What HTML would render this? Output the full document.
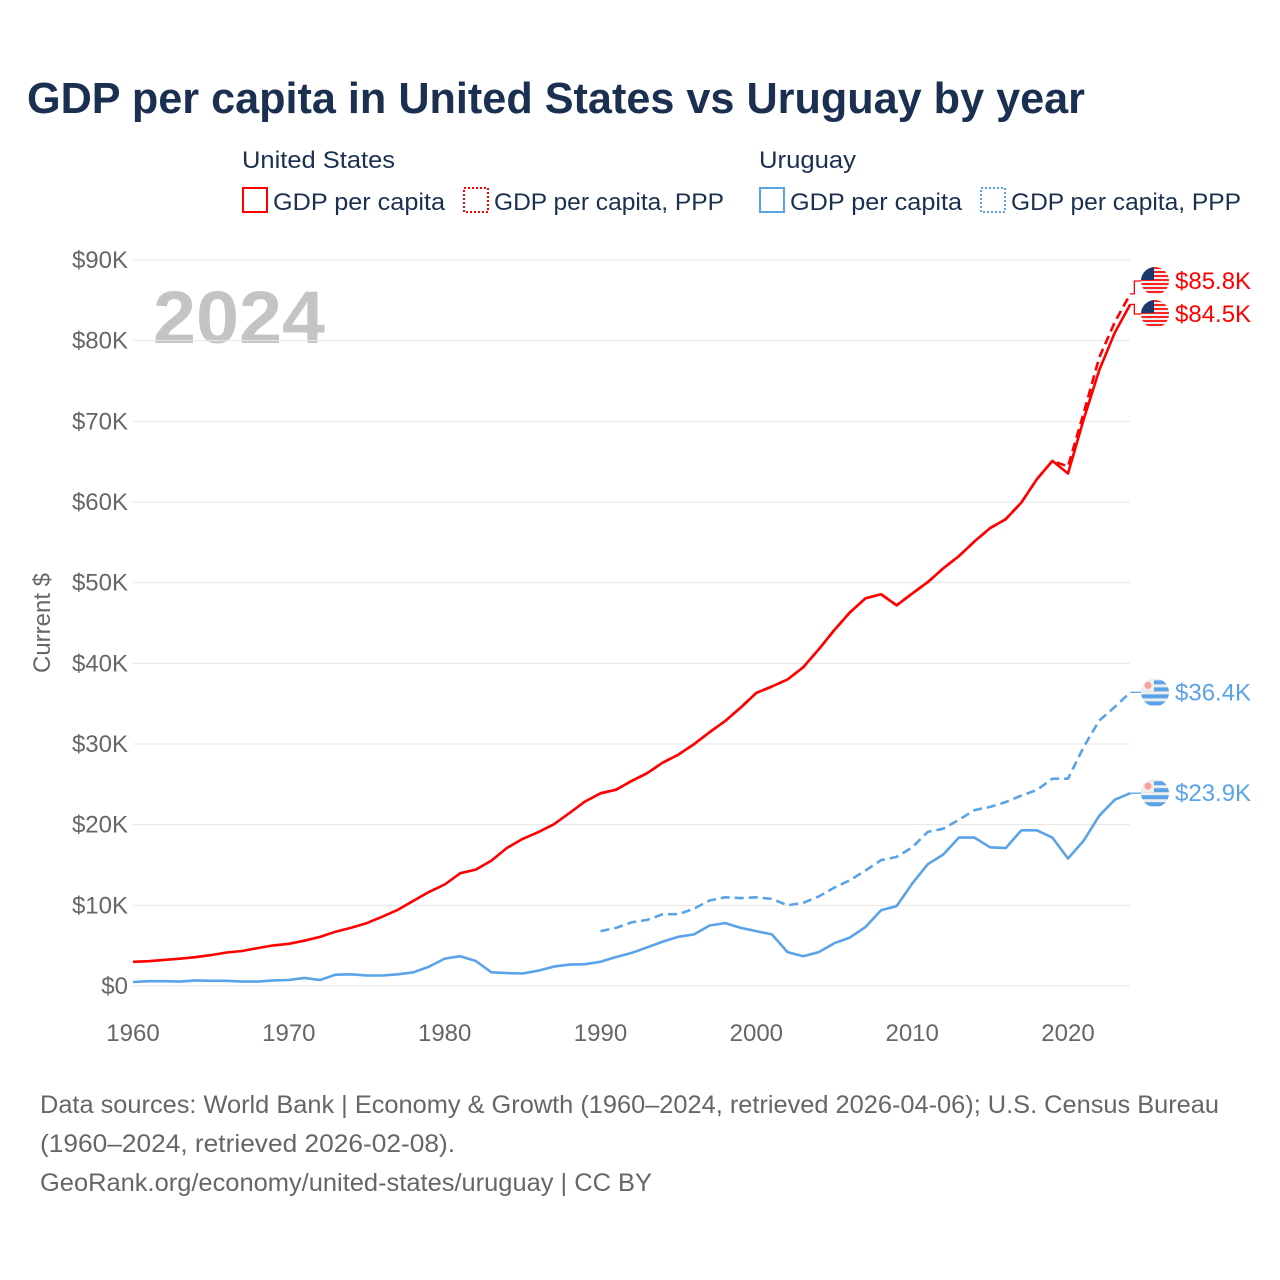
<!DOCTYPE html>
<html><head><meta charset="utf-8"><style>
html,body{margin:0;padding:0;background:#fff;}
svg{display:block;font-family:"Liberation Sans",sans-serif;}
</style></head><body>
<svg id="chart" width="1280" height="1280" viewBox="0 0 1280 1280" xmlns="http://www.w3.org/2000/svg">
<text x="27" y="113" font-size="44" font-weight="bold" fill="#1b3050" textLength="1058" lengthAdjust="spacingAndGlyphs">GDP per capita in United States vs Uruguay by year</text>
<g font-size="24" fill="#1b3050">
<text x="242" y="168" textLength="153" lengthAdjust="spacingAndGlyphs">United States</text>
<rect x="243" y="188" width="24" height="24" fill="none" stroke="#f00" stroke-width="2"/>
<text x="273" y="210" textLength="172" lengthAdjust="spacingAndGlyphs">GDP per capita</text>
<rect x="464" y="188" width="24" height="24" fill="none" stroke="#f00" stroke-width="2" stroke-dasharray="2,2"/>
<text x="494" y="210" textLength="230" lengthAdjust="spacingAndGlyphs">GDP per capita, PPP</text>
<text x="759" y="168" textLength="97" lengthAdjust="spacingAndGlyphs">Uruguay</text>
<rect x="760" y="188" width="24" height="24" fill="none" stroke="#5aa3e8" stroke-width="2"/>
<text x="790" y="210" textLength="172" lengthAdjust="spacingAndGlyphs">GDP per capita</text>
<rect x="981" y="188" width="24" height="24" fill="none" stroke="#5aa3e8" stroke-width="2" stroke-dasharray="2,2"/>
<text x="1011" y="210" textLength="230" lengthAdjust="spacingAndGlyphs">GDP per capita, PPP</text>
</g>
<text x="153" y="343" font-size="74" font-weight="bold" fill="#c4c4c4" textLength="172" lengthAdjust="spacingAndGlyphs">2024</text>
<text transform="translate(50,623) rotate(-90)" text-anchor="middle" font-size="24" fill="#666">Current $</text>
<g id="grid"></g><g id="ticks"></g><g id="series"></g><g id="labels"></g>
<g font-size="25" fill="#666">
<text x="40" y="1113" textLength="1179" lengthAdjust="spacingAndGlyphs">Data sources: World Bank | Economy &amp; Growth (1960–2024, retrieved 2026-04-06); U.S. Census Bureau</text>
<text x="40" y="1152" textLength="415" lengthAdjust="spacingAndGlyphs">(1960–2024, retrieved 2026-02-08).</text>
<text x="40" y="1191" textLength="612" lengthAdjust="spacingAndGlyphs">GeoRank.org/economy/united-states/uruguay | CC BY</text>
</g>
</svg>
<script>
const yTicks=[0,10,20,30,40,50,60,70,80,90];
const xTicks=[1960,1970,1980,1990,2000,2010,2020];
const usYears0=1960;
const usGdp=[3.0,3.07,3.24,3.38,3.57,3.83,4.15,4.34,4.7,5.03,5.23,5.61,6.09,6.73,7.23,7.8,8.59,9.45,10.57,11.67,12.58,13.98,14.43,15.54,17.12,18.24,19.07,20.04,21.42,22.86,23.89,24.34,25.42,26.39,27.7,28.69,29.97,31.46,32.85,34.52,36.33,37.13,38.0,39.49,41.73,44.12,46.3,48.05,48.57,47.2,48.65,50.07,51.78,53.29,55.12,56.76,57.87,59.92,62.81,65.1,63.53,70.22,76.33,81.0,84.5];
const usPppYears0=1990;
const usPpp=[23.89,24.34,25.42,26.39,27.7,28.69,29.97,31.46,32.85,34.52,36.33,37.13,38.0,39.49,41.73,44.12,46.3,48.05,48.57,47.2,48.65,50.07,51.78,53.29,55.12,56.76,57.87,59.92,62.81,65.1,64.4,71.0,77.9,82.3,85.8];
const uyYears0=1960;
const uyGdp=[0.5,0.6,0.6,0.55,0.7,0.65,0.65,0.55,0.55,0.7,0.75,1.0,0.75,1.4,1.45,1.3,1.3,1.45,1.7,2.4,3.4,3.7,3.1,1.7,1.6,1.55,1.9,2.4,2.65,2.7,3.0,3.6,4.1,4.8,5.5,6.1,6.4,7.5,7.8,7.2,6.8,6.4,4.2,3.7,4.2,5.3,6.0,7.3,9.4,9.9,12.7,15.1,16.3,18.4,18.4,17.2,17.1,19.3,19.3,18.4,15.8,18.0,21.1,23.1,23.9];
const uyPppYears0=1990;
const uyPpp=[6.8,7.2,7.9,8.2,8.9,8.9,9.6,10.6,11.0,10.9,11.0,10.8,10.0,10.3,11.1,12.2,13.1,14.3,15.6,16.0,17.2,19.1,19.5,20.6,21.8,22.2,22.8,23.6,24.3,25.7,25.7,29.6,32.9,34.6,36.4];
const NS='http://www.w3.org/2000/svg';
const X=y=>133+(y-1960)*(935/60);
const Y=v=>986-v*(726/90);
function mk(tag,attrs,parent){const e=document.createElementNS(NS,tag);for(const k in attrs)e.setAttribute(k,attrs[k]);parent.appendChild(e);return e;}
const grid=document.getElementById('grid'),ticks=document.getElementById('ticks'),series=document.getElementById('series'),labels=document.getElementById('labels');
yTicks.forEach(v=>{
 const l=mk('line',{x1:133,x2:1130,y1:Y(v),y2:Y(v),stroke:'#e6e6e6','stroke-width':1},grid);
 
 
 const t=mk('text',{x:128,y:Y(v)+8,'text-anchor':'end','font-size':24,fill:'#666'},ticks);
 
 
 t.textContent='$'+v+(v?'K':'');
});
xTicks.forEach(y=>{
 const t=mk('text',{x:X(y),y:1041,'text-anchor':'middle','font-size':24,fill:'#666'},ticks);
 
 
 t.textContent=y;
});
function line(y0,vals,color,dash,name){
 const d=vals.map((v,i)=>(i?'L':'M')+X(y0+i).toFixed(1)+','+Y(v).toFixed(1)).join('');
 const p=mk('path',{d:d,fill:'none',stroke:color,'stroke-width':2.6,'stroke-linejoin':'round'},series);
 if(dash)p.setAttribute('stroke-dasharray','9,5');
 
 
}
line(usPppYears0,usPpp,'#f00',true,'us-ppp-line');
line(usYears0,usGdp,'#f00',false,'us-gdp-line');
line(uyPppYears0,uyPpp,'#5aa3e8',true,'uy-ppp-line');
line(uyYears0,uyGdp,'#5aa3e8',false,'uy-gdp-line');
function flag(cx,cy,us,parent){
 const g=mk('g',{},parent);
 const id='c'+Math.round(cx)+Math.round(cy);
 const cp=mk('clipPath',{id:id},g);mk('circle',{cx:cx,cy:cy,r:14},cp);
 const gg=mk('g',{'clip-path':'url(#'+id+')'},g);
 mk('rect',{x:cx-14,y:cy-14,width:28,height:28,fill:'#eee'},gg);
 if(us){for(let i=0;i<7;i++)mk('rect',{x:cx-14,y:cy-14+i*4,width:28,height:2,fill:'#f22'},gg);
  mk('rect',{x:cx-14,y:cy-14,width:13,height:13,fill:'#1b3a6b'},gg);}
 else{for(let i=0;i<4;i++)mk('rect',{x:cx-14,y:cy-12+i*7,width:28,height:4,fill:'#5aa3e8'},gg);
  mk('rect',{x:cx-14,y:cy-14,width:13,height:13,fill:'#eee'},gg);
  mk('circle',{cx:cx-7,cy:cy-7,r:3.5,fill:'#f6a09a'},gg);}
 return g;
}
function endLabel(val,ly,color,us,name,lineVal){
 const ex=X(2024),ey=Y(lineVal);
 const c=mk('path',{d:`M${ex},${ey}L${ex+4},${ey}L${ex+4},${ly}L${ex+12},${ly}`,fill:'none',stroke:color,'stroke-width':1.3},labels);
 
 
 const f=flag(1155,ly,us,labels);
 
 
 const t=mk('text',{x:1175,y:ly+8,'font-size':24,fill:color},labels);
 
 
 t.textContent='$'+val.toFixed(1)+'K';
}
endLabel(usPpp[usPpp.length-1],281,'#f00',true,'us-ppp',usPpp[usPpp.length-1]);
endLabel(usGdp[usGdp.length-1],314,'#f00',true,'us-gdp',usGdp[usGdp.length-1]);
endLabel(uyPpp[uyPpp.length-1],Y(uyPpp[uyPpp.length-1]),'#5aa3e8',false,'uy-ppp',uyPpp[uyPpp.length-1]);
endLabel(uyGdp[uyGdp.length-1],Y(uyGdp[uyGdp.length-1]),'#5aa3e8',false,'uy-gdp',uyGdp[uyGdp.length-1]);
</script>
</body></html>
